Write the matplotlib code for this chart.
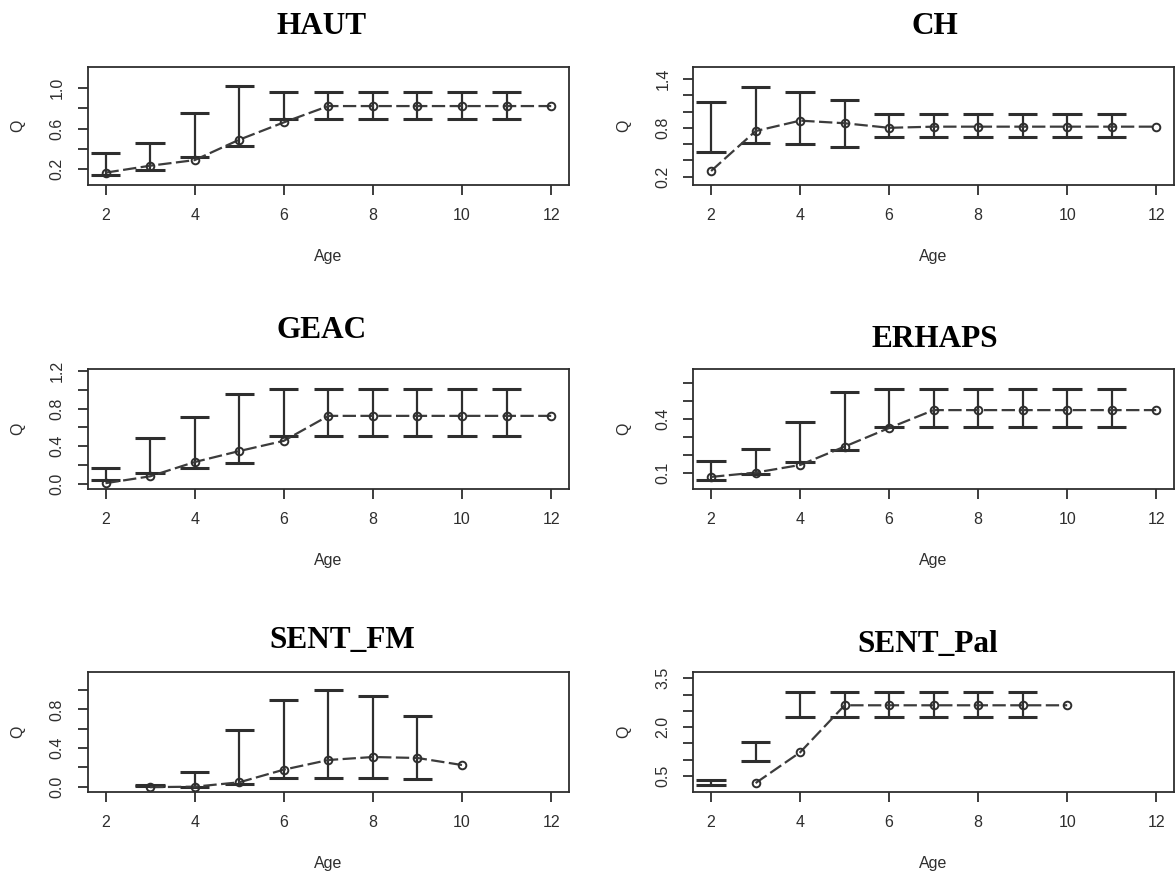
import numpy as np
import matplotlib
matplotlib.use("Agg")
import matplotlib.pyplot as plt

nan = np.nan

ages = [2, 3, 4, 5, 6, 7, 8, 9, 10, 11, 12]

# HAUT
haut_q = [0.167, 0.235, 0.29, 0.49, 0.66, 0.82, 0.82, 0.82, 0.82, 0.82, 0.82]
haut_hi = [0.357, 0.455, 0.75, 1.02, 0.96, 0.96, 0.96, 0.96, 0.96, 0.96, nan]
haut_lo = [0.145, 0.195, 0.318, 0.425, 0.69, 0.69, 0.69, 0.69, 0.69, 0.69, nan]

# CH
ch_q = [0.27, 0.76, 0.888, 0.856, 0.80, 0.814, 0.814, 0.814, 0.814, 0.814, 0.814]
ch_hi = [1.118, 1.30, 1.237, 1.142, 0.97, 0.97, 0.97, 0.97, 0.97, 0.97, nan]
ch_lo = [0.50, 0.61, 0.598, 0.561, 0.688, 0.688, 0.688, 0.688, 0.688, 0.688, nan]

# GEAC
geac_q = [0.005, 0.078, 0.23, 0.347, 0.456, 0.722, 0.722, 0.722, 0.722, 0.722, 0.722]
geac_hi = [0.166, 0.485, 0.715, 0.952, 1.012, 1.012, 1.012, 1.012, 1.012, 1.012, nan]
geac_lo = [0.035, 0.113, 0.166, 0.219, 0.51, 0.51, 0.51, 0.51, 0.51, 0.51, nan]

# ERHAPS
erhaps_q = [0.08, 0.104, 0.146, 0.248, 0.351, 0.45, 0.45, 0.45, 0.45, 0.45, 0.45]
erhaps_hi = [0.17, 0.237, 0.384, 0.55, 0.565, 0.565, 0.565, 0.565, 0.565, 0.565, nan]
erhaps_lo = [0.063, 0.096, 0.161, 0.229, 0.358, 0.358, 0.358, 0.358, 0.358, 0.358, nan]

# SENT_FM
fm_q = [nan, -0.005, 0.0, 0.045, 0.176, 0.276, 0.307, 0.297, 0.224, nan, nan]
fm_hi = [nan, 0.017, 0.148, 0.586, 0.893, 0.997, 0.934, 0.734, nan, nan, nan]
fm_lo = [nan, 0.007, 0.0, 0.03, 0.09, 0.093, 0.093, 0.076, nan, nan, nan]

# SENT_Pal
pal_q = [nan, 0.285, 1.227, 2.67, 2.67, 2.67, 2.67, 2.67, 2.67, nan, nan]
pal_hi = [0.367, 1.554, 3.09, 3.09, 3.09, 3.09, 3.09, 3.09, nan, nan, nan]
pal_lo = [0.224, 0.97, 2.31, 2.31, 2.31, 2.31, 2.31, 2.31, nan, nan, nan]

x_ticks = [2, 4, 6, 8, 10, 12]

panels = [
    dict(title="HAUT", q=haut_q, hi=haut_hi, lo=haut_lo,
         ylim=(0.046, 1.206), yticks=[0.2, 0.4, 0.6, 0.8, 1.0],
         ylabels=["0.2", "", "0.6", "", "1.0"],
         rect=(87.7, 66.7, 569, 185), tpos=(322, 34)),
    dict(title="CH", q=ch_q, hi=ch_hi, lo=ch_lo,
         ylim=(0.098, 1.55), yticks=[0.2, 0.4, 0.6, 0.8, 1.0, 1.2, 1.4],
         ylabels=["0.2", "", "", "0.8", "", "", "1.4"],
         rect=(693.3, 66.7, 1174, 185), tpos=(935, 34)),
    dict(title="GEAC", q=geac_q, hi=geac_hi, lo=geac_lo,
         ylim=(-0.057, 1.218), yticks=[0.0, 0.2, 0.4, 0.6, 0.8, 1.0, 1.2],
         ylabels=["0.0", "", "0.4", "", "0.8", "", "1.2"],
         rect=(87.7, 369.3, 569, 489), tpos=(322, 338)),
    dict(title="ERHAPS", q=erhaps_q, hi=erhaps_hi, lo=erhaps_lo,
         ylim=(0.013, 0.676), yticks=[0.1, 0.2, 0.3, 0.4, 0.5, 0.6],
         ylabels=["0.1", "", "", "0.4", "", ""],
         rect=(693.3, 369.3, 1174, 489), tpos=(935, 347)),
    dict(title="SENT_FM", q=fm_q, hi=fm_hi, lo=fm_lo,
         ylim=(-0.052, 1.19), yticks=[0.0, 0.2, 0.4, 0.6, 0.8, 1.0],
         ylabels=["0.0", "", "0.4", "", "0.8", ""],
         rect=(87.7, 671.7, 569, 791.7), tpos=(342, 648)),
    dict(title="SENT_Pal", q=pal_q, hi=pal_hi, lo=pal_lo,
         ylim=(0.02, 3.70), yticks=[0.5, 1.0, 1.5, 2.0, 2.5, 3.0, 3.5],
         ylabels=["0.5", "", "", "2.0", "", "", "3.5"],
         rect=(693.3, 671.7, 1174, 791.7), tpos=(928, 652)),
]

W, H = 1175, 876
fig = plt.figure(figsize=(W / 100, H / 100), dpi=100)

ink = "#2e2e2e"
line_col = "#3c3c3c"
tick_font = dict(family="Liberation Sans", size=11.5, color=ink)
cap_half = 0.33

for p in panels:
    x0, y0, x1, y1 = p["rect"]
    ax = fig.add_axes([x0 / W, 1 - y1 / H, (x1 - x0) / W, (y1 - y0) / H])
    x = np.array(ages, dtype=float)
    q = np.array(p["q"], dtype=float)
    hi = np.array(p["hi"], dtype=float)
    lo = np.array(p["lo"], dtype=float)

    # error bars with caps
    ok = ~np.isnan(hi)
    ax.vlines(x[ok], lo[ok], hi[ok], colors=ink, lw=1.6, zorder=2)
    ax.hlines(hi[ok], x[ok] - cap_half, x[ok] + cap_half, colors=ink, lw=2.2, zorder=2)
    ax.hlines(lo[ok], x[ok] - cap_half, x[ok] + cap_half, colors=ink, lw=2.2, zorder=2)

    # dashed mean line with open circles
    ax.plot(x, q, color=line_col, lw=1.6, dashes=(6, 2), zorder=3)
    ax.plot(x, q, linestyle="none", marker="o", ms=5.5, mfc="none",
            mec=ink, mew=1.4, zorder=4)

    ax.set_xlim(1.6, 12.4)
    ax.set_ylim(*p["ylim"])
    ax.set_xticks(x_ticks)
    ax.set_xticklabels([str(t) for t in x_ticks], **tick_font)
    ax.set_yticks(p["yticks"])
    ax.set_yticklabels(p["ylabels"], **tick_font)
    for lbl in ax.get_yticklabels():
        lbl.set_rotation(90)
        lbl.set_va("center")
        lbl.set_ha("right")
    ax.tick_params(axis="both", direction="out", length=7.5, width=1.3,
                   color=ink)
    ax.tick_params(axis="x", pad=9)
    ax.tick_params(axis="y", pad=9)
    for s in ax.spines.values():
        s.set_color(ink)
        s.set_linewidth(1.3)

    ax.text(0.5, -72 / (y1 - y0), "Age", transform=ax.transAxes,
            ha="center", va="center", **tick_font)
    ax.text(-70 / (x1 - x0), 0.5, "Q", transform=ax.transAxes,
            rotation=90, ha="center", va="center", **tick_font)

    tx, ty = p["tpos"]
    fig.text(tx / W, 1 - ty / H, p["title"], ha="center", va="baseline",
             family="Liberation Serif", weight="bold", size=22.5, color="black")

fig.savefig("out.png", dpi=100, facecolor="white")
